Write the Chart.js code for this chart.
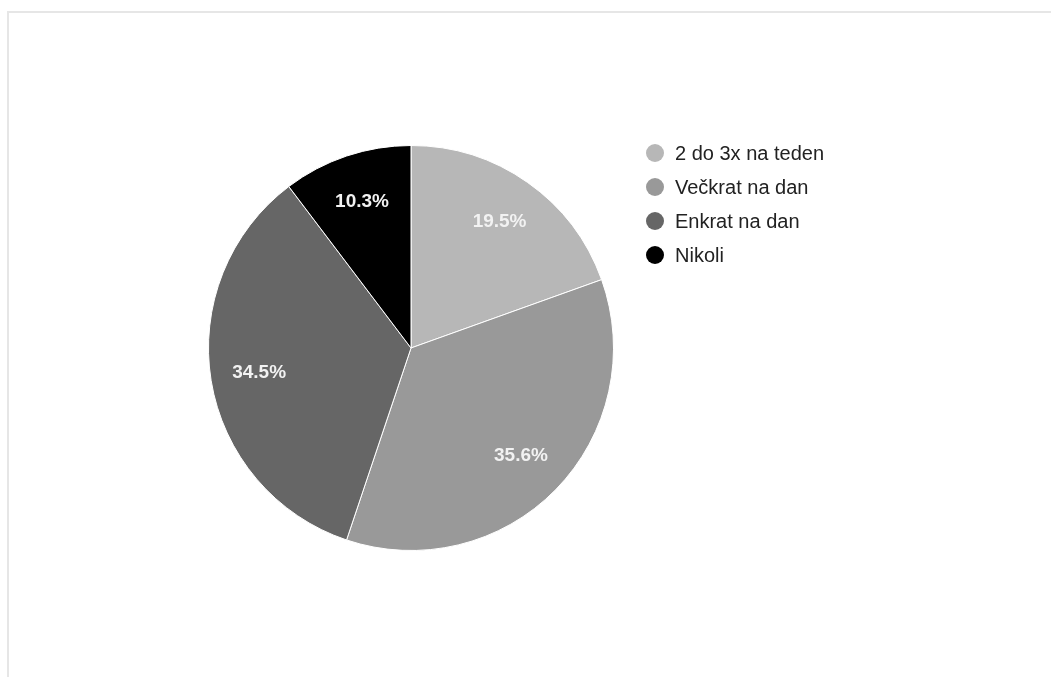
<!DOCTYPE html>
<html>
<head>
<meta charset="utf-8">
<script src="https://cdn.jsdelivr.net/npm/chart.js@4/dist/chart.umd.min.js"></script>
<style>
  html, body { margin: 0; padding: 0; background: #fff; }
  #wrap { position: relative; width: 1051px; height: 677px; }
</style>
</head>
<body>
<div id="wrap"><canvas id="pie"></canvas></div>
<script>
const labels = ['2 do 3x na teden', 'Večkrat na dan', 'Enkrat na dan', 'Nikoli'];
const values = [19.5, 35.6, 34.5, 10.3];
const colors = ['#b7b7b7', '#999999', '#666666', '#000000'];

// light frame along top and left edges
const framePlugin = {
  id: 'frame',
  beforeDraw(chart) {
    const ctx = chart.ctx;
    ctx.save();
    ctx.fillStyle = '#e6e6e6';
    ctx.fillRect(7, 11, chart.width - 7, 2);
    ctx.fillRect(7, 11, 2, chart.height - 11);
    ctx.restore();
  }
};

// percentage text inside each slice
const sliceLabels = {
  id: 'sliceLabels',
  afterDatasetsDraw(chart) {
    const ctx = chart.ctx;
    const meta = chart.getDatasetMeta(0);
    const total = values.reduce((a, b) => a + b, 0);
    ctx.save();
    ctx.fillStyle = '#f2f2f2';
    ctx.font = 'bold 19px "Liberation Sans", Arial, sans-serif';
    ctx.textAlign = 'center';
    ctx.textBaseline = 'middle';
    meta.data.forEach((arc, i) => {
      const p = arc.getProps(['x', 'y', 'startAngle', 'endAngle', 'outerRadius'], true);
      const mid = (p.startAngle + p.endAngle) / 2;
      const r = p.outerRadius * 0.76;
      const pct = (values[i] / total * 100).toFixed(1) + '%';
      ctx.fillText(pct, p.x + Math.cos(mid) * r, p.y + Math.sin(mid) * r);
    });
    ctx.restore();
  }
};

// legend on the right with round markers
const sideLegend = {
  id: 'sideLegend',
  afterDraw(chart) {
    const ctx = chart.ctx;
    ctx.save();
    ctx.font = '20px "Liberation Sans", Arial, sans-serif';
    ctx.textBaseline = 'middle';
    labels.forEach((lab, i) => {
      const y = 153 + i * 34;
      ctx.fillStyle = colors[i];
      ctx.beginPath();
      ctx.arc(655, y, 9, 0, Math.PI * 2);
      ctx.fill();
      ctx.fillStyle = '#222222';
      ctx.fillText(lab, 675, y + 1);
    });
    ctx.restore();
  }
};

new Chart(document.getElementById('pie'), {
  type: 'pie',
  data: {
    labels: labels,
    datasets: [{
      data: values,
      backgroundColor: colors,
      borderColor: '#ffffff',
      borderWidth: 1
    }]
  },
  options: {
    responsive: true,
    maintainAspectRatio: false,
    animation: false,
    layout: { padding: { left: 208, right: 437, top: 145, bottom: 126 } },
    plugins: {
      legend: { display: false },
      tooltip: { enabled: false }
    }
  },
  plugins: [framePlugin, sliceLabels, sideLegend]
});
</script>
</body>
</html>
